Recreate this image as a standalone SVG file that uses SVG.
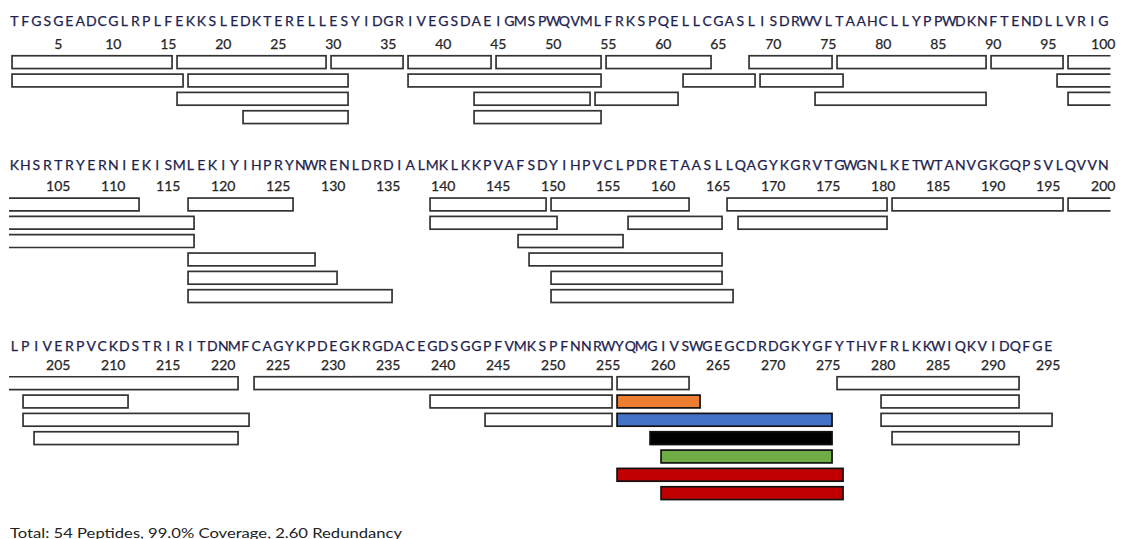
<svg xmlns="http://www.w3.org/2000/svg" width="1121" height="539" viewBox="0 0 1121 539">
<style>
.seq{font-family:Lato,"Liberation Sans",sans-serif;font-size:14px;fill:#221e4e;text-anchor:middle;stroke:#221e4e;stroke-width:0.25}
.num{font-family:Lato,"Liberation Sans",sans-serif;font-size:14px;fill:#262626;text-anchor:middle;stroke:#262626;stroke-width:0.25}
.tot{font-family:Lato,"Liberation Sans",sans-serif;font-size:14px;fill:#222222}
.b{fill:#ffffff;stroke:#333333;stroke-width:1.7}
.o{fill:none;stroke:#333333;stroke-width:1.7}
.c{stroke:#111111;stroke-width:1.7}
</style>
<rect width="1121" height="539" fill="#ffffff"/>

<g id="row1">
<text class="seq" y="26" x="14.3 25.3 36.3 47.3 58.3 69.3 80.3 91.3 102.3 113.3 124.3 135.3 146.3 157.3 168.3 179.3 190.3 201.3 212.3 223.3 234.3 245.3 256.3 267.3 278.3 289.3 300.3 311.3 322.3 333.3 344.3 355.3 366.3 377.3 388.3 399.3 410.3 421.3 432.3 443.3 454.3 465.3 476.3 487.3 498.3 509.3 520.3 531.3 542.3 553.3 564.3 575.3 586.3 597.3 608.3 619.3 630.3 641.3 652.3 663.3 674.3 685.3 696.3 707.3 718.3 729.3 740.3 751.3 762.3 773.3 784.3 795.3 806.3 817.3 828.3 839.3 850.3 861.3 872.3 883.3 894.3 905.3 916.3 927.3 938.3 949.3 960.3 971.3 982.3 993.3 1004.3 1015.3 1026.3 1037.3 1048.3 1059.3 1070.3 1081.3 1092.3 1103.3">TFGSGEADCGLRPLFEKKSLEDKTERELLESYIDGRIVEGSDAEIGMSPWQVMLFRKSPQELLCGASLISDRWVLTAAHCLLYPPWDKNFTENDLLVRIG</text>
<g class="num">
<text x="58.3" y="49">5</text><text x="113.3" y="49">10</text><text x="168.3" y="49">15</text><text x="223.3" y="49">20</text><text x="278.3" y="49">25</text><text x="333.3" y="49">30</text><text x="388.3" y="49">35</text><text x="443.3" y="49">40</text><text x="498.3" y="49">45</text><text x="553.3" y="49">50</text><text x="608.3" y="49">55</text><text x="663.3" y="49">60</text><text x="718.3" y="49">65</text><text x="773.3" y="49">70</text><text x="828.3" y="49">75</text><text x="883.3" y="49">80</text><text x="938.3" y="49">85</text><text x="993.3" y="49">90</text><text x="1048.3" y="49">95</text><text x="1103.3" y="49">100</text>
</g>
<g id="row1-peptides">
<rect class="b" x="12.05" y="55.75" width="160" height="12.8"/>
<rect class="b" x="177.05" y="55.75" width="149" height="12.8"/>
<rect class="b" x="331.05" y="55.75" width="72" height="12.8"/>
<rect class="b" x="408.05" y="55.75" width="83" height="12.8"/>
<rect class="b" x="496.05" y="55.75" width="105" height="12.8"/>
<rect class="b" x="606.05" y="55.75" width="105" height="12.8"/>
<rect class="b" x="749.05" y="55.75" width="83" height="12.8"/>
<rect class="b" x="837.05" y="55.75" width="149" height="12.8"/>
<rect class="b" x="991.05" y="55.75" width="72" height="12.8"/>
<path class="o" d="M1110.5 55.75H1068.05V68.55H1110.5"/>

<rect class="b" x="12.05" y="74.1" width="171" height="12.8"/>
<rect class="b" x="188.05" y="74.1" width="160" height="12.8"/>
<rect class="b" x="408.05" y="74.1" width="193" height="12.8"/>
<rect class="b" x="683.05" y="74.1" width="72" height="12.8"/>
<rect class="b" x="760.05" y="74.1" width="83" height="12.8"/>
<path class="o" d="M1110.5 74.1H1057.05V86.9H1110.5"/>

<rect class="b" x="177.05" y="92.4" width="171" height="12.8"/>
<rect class="b" x="474.05" y="92.4" width="116" height="12.8"/>
<rect class="b" x="595.05" y="92.4" width="83" height="12.8"/>
<rect class="b" x="815.05" y="92.4" width="171" height="12.8"/>
<path class="o" d="M1110.5 92.4H1068.05V105.2H1110.5"/>

<rect class="b" x="243.05" y="110.75" width="105" height="12.8"/>
<rect class="b" x="474.05" y="110.75" width="127" height="12.8"/>
</g>
</g>

<g id="row2">
<text class="seq" y="170" x="14.3 25.3 36.3 47.3 58.3 69.3 80.3 91.3 102.3 113.3 124.3 135.3 146.3 157.3 168.3 179.3 190.3 201.3 212.3 223.3 234.3 245.3 256.3 267.3 278.3 289.3 300.3 311.3 322.3 333.3 344.3 355.3 366.3 377.3 388.3 399.3 410.3 421.3 432.3 443.3 454.3 465.3 476.3 487.3 498.3 509.3 520.3 531.3 542.3 553.3 564.3 575.3 586.3 597.3 608.3 619.3 630.3 641.3 652.3 663.3 674.3 685.3 696.3 707.3 718.3 729.3 740.3 751.3 762.3 773.3 784.3 795.3 806.3 817.3 828.3 839.3 850.3 861.3 872.3 883.3 894.3 905.3 916.3 927.3 938.3 949.3 960.3 971.3 982.3 993.3 1004.3 1015.3 1026.3 1037.3 1048.3 1059.3 1070.3 1081.3 1092.3 1103.3">KHSRTRYERNIEKISMLEKIYIHPRYNWRENLDRDIALMKLKKPVAFSDYIHPVCLPDRETAASLLQAGYKGRVTGWGNLKETWTANVGKGQPSVLQVVN</text>
<g class="num">
<text x="58.3" y="190.7">105</text><text x="113.3" y="190.7">110</text><text x="168.3" y="190.7">115</text><text x="223.3" y="190.7">120</text><text x="278.3" y="190.7">125</text><text x="333.3" y="190.7">130</text><text x="388.3" y="190.7">135</text><text x="443.3" y="190.7">140</text><text x="498.3" y="190.7">145</text><text x="553.3" y="190.7">150</text><text x="608.3" y="190.7">155</text><text x="663.3" y="190.7">160</text><text x="718.3" y="190.7">165</text><text x="773.3" y="190.7">170</text><text x="828.3" y="190.7">175</text><text x="883.3" y="190.7">180</text><text x="938.3" y="190.7">185</text><text x="993.3" y="190.7">190</text><text x="1048.3" y="190.7">195</text><text x="1103.3" y="190.7">200</text>
</g>
<g id="row2-peptides">
<path class="o" d="M9 198.05H139.05V210.85H9"/>
<rect class="b" x="188.05" y="198.05" width="105" height="12.8"/>
<rect class="b" x="430.05" y="198.05" width="116" height="12.8"/>
<rect class="b" x="551.05" y="198.05" width="138" height="12.8"/>
<rect class="b" x="727.05" y="198.05" width="160" height="12.8"/>
<rect class="b" x="892.05" y="198.05" width="171" height="12.8"/>
<path class="o" d="M1110.5 198.05H1068.05V210.85H1110.5"/>

<path class="o" d="M9 216.4H194.05V229.2H9"/>
<rect class="b" x="430.05" y="216.4" width="127" height="12.8"/>
<rect class="b" x="628.05" y="216.4" width="94" height="12.8"/>
<rect class="b" x="738.05" y="216.4" width="149" height="12.8"/>

<path class="o" d="M9 234.7H194.05V247.5H9"/>
<rect class="b" x="518.05" y="234.7" width="105" height="12.8"/>

<rect class="b" x="188.05" y="253.05" width="127" height="12.8"/>
<rect class="b" x="529.05" y="253.05" width="193" height="12.8"/>

<rect class="b" x="188.05" y="271.4" width="149" height="12.8"/>
<rect class="b" x="551.05" y="271.4" width="171" height="12.8"/>

<rect class="b" x="188.05" y="289.7" width="204" height="12.8"/>
<rect class="b" x="551.05" y="289.7" width="182" height="12.8"/>
</g>
</g>

<g id="row3">
<text class="seq" y="350.5" x="14.3 25.3 36.3 47.3 58.3 69.3 80.3 91.3 102.3 113.3 124.3 135.3 146.3 157.3 168.3 179.3 190.3 201.3 212.3 223.3 234.3 245.3 256.3 267.3 278.3 289.3 300.3 311.3 322.3 333.3 344.3 355.3 366.3 377.3 388.3 399.3 410.3 421.3 432.3 443.3 454.3 465.3 476.3 487.3 498.3 509.3 520.3 531.3 542.3 553.3 564.3 575.3 586.3 597.3 608.3 619.3 630.3 641.3 652.3 663.3 674.3 685.3 696.3 707.3 718.3 729.3 740.3 751.3 762.3 773.3 784.3 795.3 806.3 817.3 828.3 839.3 850.3 861.3 872.3 883.3 894.3 905.3 916.3 927.3 938.3 949.3 960.3 971.3 982.3 993.3 1004.3 1015.3 1026.3 1037.3 1048.3">LPIVERPVCKDSTRIRITDNMFCAGYKPDEGKRGDACEGDSGGPFVMKSPFNNRWYQMGIVSWGEGCDRDGKYGFYTHVFRLKKWIQKVIDQFGE</text>
<g class="num">
<text x="58.3" y="369.5">205</text><text x="113.3" y="369.5">210</text><text x="168.3" y="369.5">215</text><text x="223.3" y="369.5">220</text><text x="278.3" y="369.5">225</text><text x="333.3" y="369.5">230</text><text x="388.3" y="369.5">235</text><text x="443.3" y="369.5">240</text><text x="498.3" y="369.5">245</text><text x="553.3" y="369.5">250</text><text x="608.3" y="369.5">255</text><text x="663.3" y="369.5">260</text><text x="718.3" y="369.5">265</text><text x="773.3" y="369.5">270</text><text x="828.3" y="369.5">275</text><text x="883.3" y="369.5">280</text><text x="938.3" y="369.5">285</text><text x="993.3" y="369.5">290</text><text x="1048.3" y="369.5">295</text>
</g>
<g id="row3-peptides">
<path class="o" d="M9 376.75H238.05V389.55H9"/>
<rect class="b" x="254.05" y="376.75" width="358" height="12.8"/>
<rect class="b" x="617.05" y="376.75" width="72" height="12.8"/>
<rect class="b" x="837.05" y="376.75" width="182" height="12.8"/>

<rect class="b" x="23.05" y="395.1" width="105" height="12.8"/>
<rect class="b" x="430.05" y="395.1" width="182" height="12.8"/>
<rect class="c" fill="#ed7d31" x="617.05" y="395.1" width="83" height="12.8"/>
<rect class="b" x="881.05" y="395.1" width="138" height="12.8"/>

<rect class="b" x="23.05" y="413.4" width="226" height="12.8"/>
<rect class="b" x="485.05" y="413.4" width="127" height="12.8"/>
<rect class="c" fill="#4472c4" x="617.05" y="413.4" width="215" height="12.8"/>
<rect class="b" x="881.05" y="413.4" width="171" height="12.8"/>

<rect class="b" x="34.05" y="431.75" width="204" height="12.8"/>
<rect class="c" fill="#000000" x="650.05" y="431.75" width="182" height="12.8"/>
<rect class="b" x="892.05" y="431.75" width="127" height="12.8"/>

<rect class="c" fill="#70ad47" x="661.05" y="450.1" width="171" height="12.8"/>

<rect class="c" fill="#c00000" x="617.05" y="468.4" width="226" height="12.8"/>

<rect class="c" fill="#c00000" x="661.05" y="486.75" width="182" height="12.8"/>
</g>
</g>

<g id="summary">
<text class="tot" x="10" y="537.5" textLength="392" lengthAdjust="spacingAndGlyphs">Total: 54 Peptides, 99.0% Coverage, 2.60 Redundancy</text>
</g>
</svg>
